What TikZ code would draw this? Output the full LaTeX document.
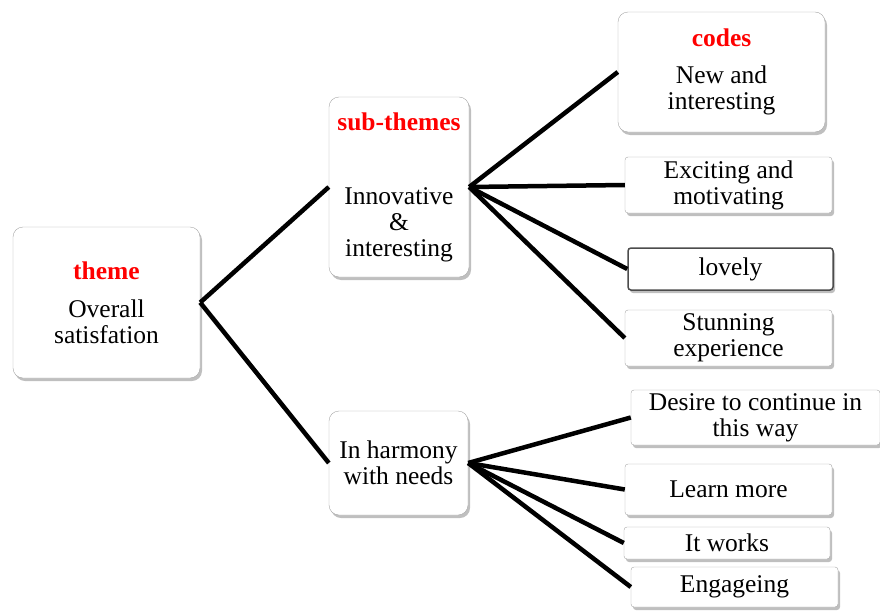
\documentclass[tikz,border=0pt]{standalone}
\usepackage{fontspec}
\setmainfont{Liberation Serif}
\usetikzlibrary{shadows}
\newcommand{\headtxt}[1]{\textcolor{red}{\textbf{#1}}}
\tikzstyle{bigbox} = [rectangle, rounded corners=10pt, draw=gray!70, fill=white, align=center, inner sep=0pt, drop shadow={shadow xshift=2pt, shadow yshift=-3pt, opacity=0.5}, font=\fontsize{25.5}{26}\selectfont]
\tikzstyle{codebox} = [bigbox, rounded corners=3pt]
\tikzstyle{link} = [line width=4.5pt]

\begin{document}
\begin{tikzpicture}[x=1pt, y=-1pt]
  \useasboundingbox (0,0) rectangle (880,610);

  \node (theme) [bigbox, minimum width=187pt, minimum height=151pt] at (106.5,302.5) {\headtxt{theme}\\[12pt] Overall\\ satisfation};
  \node (sub1) [bigbox, minimum width=140pt, minimum height=180pt] at (399,187) {\headtxt{sub-themes}\\[48pt] Innovative\\ \&\\ interesting};
  \node (sub2) [bigbox, minimum width=139pt, minimum height=104pt] at (398.5,463) {In harmony\\ with needs};

  \node (c1) [bigbox, minimum width=207pt, minimum height=120pt] at (721.5,72) {\headtxt{codes}\\[11pt] New and\\ interesting};
  \node (c2) [codebox, minimum width=207pt, minimum height=56pt] at (728.5,185) {Exciting and\\ motivating};
  \node (c3) [codebox, draw=black!70, line width=1.5pt, minimum width=205pt, minimum height=42pt] at (730.5,269) {lovely};
  \node (c4) [codebox, minimum width=207pt, minimum height=56pt] at (728.5,338) {Stunning\\ experience};
  \node (c5) [codebox, minimum width=249pt, minimum height=55pt] at (755.5,417.5) {Desire to continue in\\ this way};
  \node (c6) [codebox, minimum width=207pt, minimum height=51pt] at (728.5,489.5) {Learn more};
  \node (c7) [codebox, minimum width=206pt, minimum height=32pt] at (727,543) {It works};
  \node (c8) [codebox, minimum width=207pt, minimum height=40pt] at (734.5,587) {Engageing};

  \draw [link] (theme.east) -- (sub1.west);
  \draw [link] (theme.east) -- (sub2.west);

  \draw [link] (sub1.east) -- (c1.west);
  \draw [link] (sub1.east) -- (c2.west);
  \draw [link] (sub1.east) -- (c3.west);
  \draw [link] (sub1.east) -- (c4.west);

  \draw [link] (sub2.east) -- (c5.west);
  \draw [link] (sub2.east) -- (c6.west);
  \draw [link] (sub2.east) -- (c7.west);
  \draw [link] (sub2.east) -- (c8.west);
\end{tikzpicture}
\end{document}
